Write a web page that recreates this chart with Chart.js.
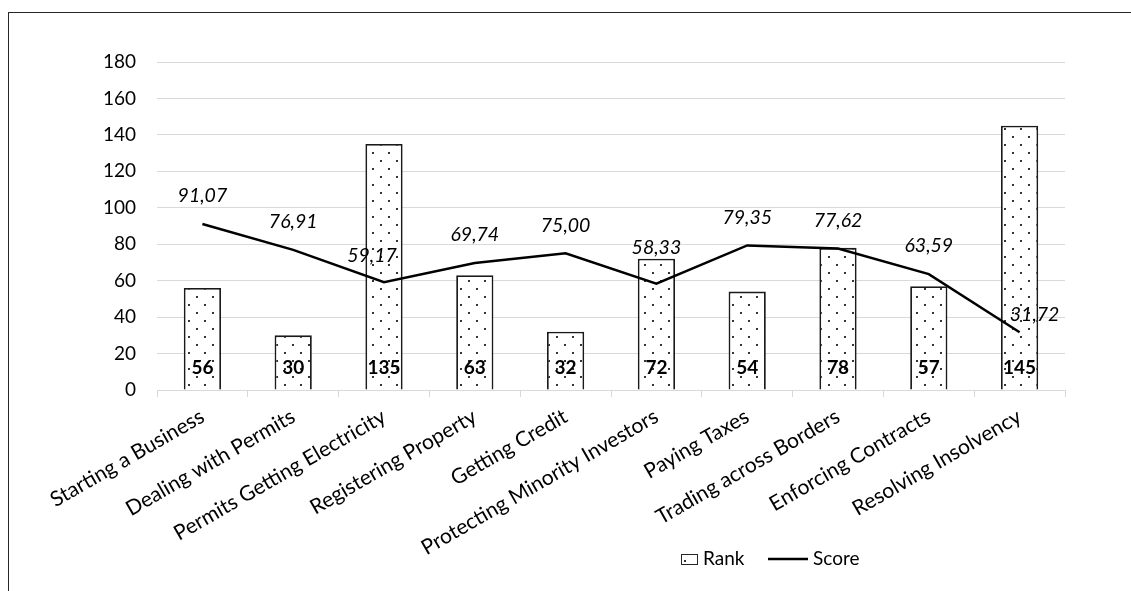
<!DOCTYPE html>
<html lang="en">
<head>
<meta charset="UTF-8">
<script src="https://cdn.jsdelivr.net/npm/chart.js"></script>
<title>Rank and Score</title>
<style>
    html, body { margin: 0; padding: 0; overflow: hidden; background: #fff; }
    #box { position: absolute; left: 8px; top: 12px; width: 1200px; height: 600px; border: 1px solid #262626; }
</style>
</head>
<body>
<div id="box">
    <canvas id="myChart" width="1200" height="600"></canvas>
</div>
<script>
    var categories = ['Starting a Business', 'Dealing with Permits', 'Permits Getting Electricity', 'Registering Property',
        'Getting Credit', 'Protecting Minority Investors', 'Paying Taxes', 'Trading across Borders',
        'Enforcing Contracts', 'Resolving Insolvency'];
    var rank = [56, 30, 135, 63, 32, 72, 54, 78, 57, 145];
    var score = [91.07, 76.91, 59.17, 69.74, 75.00, 58.33, 79.35, 77.62, 63.59, 31.72];
    var yTicks = [0, 20, 40, 60, 80, 100, 120, 140, 160, 180];

    // label nudges (px) for the score labels, like the hand placed ones in the original
    var nudgeX = [0, 0, -12, 0, 0, 0, 0, 0, 0, 15];
    var nudgeY = [0, 0, 2, 0, 0, -8, 0, 0, 0, 11];

    var FONT = 'Lato, "Noto Sans", sans-serif';

    // dotted fill like the excel pattern
    var tile = document.createElement('canvas');
    tile.width = 16; tile.height = 16;
    var tc = tile.getContext('2d');
    tc.fillStyle = '#fff';
    tc.fillRect(0, 0, 16, 16);
    tc.fillStyle = '#333';
    tc.fillRect(3, 3, 2, 2);
    tc.fillRect(11, 11, 2, 2);
    var dots = document.getElementById('myChart').getContext('2d').createPattern(tile, 'repeat');

    var labelsPlugin = {
        id: 'labels',
        afterDatasetsDraw: function (chart) {
            var ctx = chart.ctx;
            var y0 = chart.scales.y.getPixelForValue(0);
            ctx.save();
            ctx.textAlign = 'center';
            ctx.textBaseline = 'middle';
            ctx.fillStyle = '#000';
            ctx.font = 'bold 19px ' + FONT;
            chart.getDatasetMeta(1).data.forEach(function (bar, i) {
                ctx.fillText(rank[i], bar.x, y0 - 22);
            });
            ctx.font = 'italic 19.5px ' + FONT;
            chart.getDatasetMeta(0).data.forEach(function (pt, i) {
                ctx.fillText(score[i].toFixed(2).replace('.', ','), pt.x + nudgeX[i], pt.y - 28 + nudgeY[i]);
            });

            // legend
            var lx = 672, ly = 546;
            ctx.fillStyle = dots;
            ctx.fillRect(lx, ly - 5, 16, 10);
            ctx.strokeStyle = '#262626';
            ctx.lineWidth = 1;
            ctx.strokeRect(lx + 0.5, ly - 4.5, 16, 10);
            ctx.fillStyle = '#000';
            ctx.font = '19px ' + FONT;
            ctx.textAlign = 'left';
            ctx.fillText('Rank', lx + 22, ly);
            ctx.beginPath();
            ctx.moveTo(lx + 87, ly);
            ctx.lineTo(lx + 127, ly);
            ctx.lineWidth = 2.5;
            ctx.strokeStyle = '#000';
            ctx.stroke();
            ctx.fillText('Score', lx + 132, ly);
            ctx.restore();
        }
    };

    var myChart = new Chart(document.getElementById('myChart'), {
        type: 'bar',
        data: {
            labels: categories,
            datasets: [{
                type: 'line',
                label: 'Score',
                data: score,
                borderColor: '#000',
                borderWidth: 2.5,
                pointRadius: 0,
                tension: 0,
                order: 0
            }, {
                label: 'Rank',
                data: rank,
                backgroundColor: dots,
                borderColor: '#1a1a1a',
                borderWidth: 1.8,
                categoryPercentage: 1,
                barPercentage: 0.41,
                order: 1
            }]
        },
        options: {
            responsive: false,
            animation: false,
            layout: { padding: { top: 49, left: 0, right: 144, bottom: 0 } },
            plugins: {
                legend: { display: false },
                tooltip: { enabled: false }
            },
            scales: {
                x: {
                    afterFit: function (s) { s.height = 223; },
                    grid: { offset: true, drawOnChartArea: false, drawTicks: true, tickLength: 7, color: '#d9d9d9' },
                    border: { color: '#d9d9d9', width: 1 },
                    ticks: {
                        minRotation: 30, maxRotation: 30, autoSkip: false, padding: 7,
                        color: '#000', font: { family: FONT, size: 21 }
                    }
                },
                y: {
                    min: 0, max: 180,
                    afterFit: function (s) { s.width = 148; },
                    afterBuildTicks: function (s) { s.ticks = yTicks.map(function (v) { return { value: v }; }); },
                    grid: { color: '#d9d9d9', lineWidth: 1, drawTicks: false },
                    border: { display: false },
                    ticks: { padding: 21, color: '#000', font: { family: FONT, size: 19 } }
                }
            }
        },
        plugins: [labelsPlugin]
    });
</script>
</body>
</html>
